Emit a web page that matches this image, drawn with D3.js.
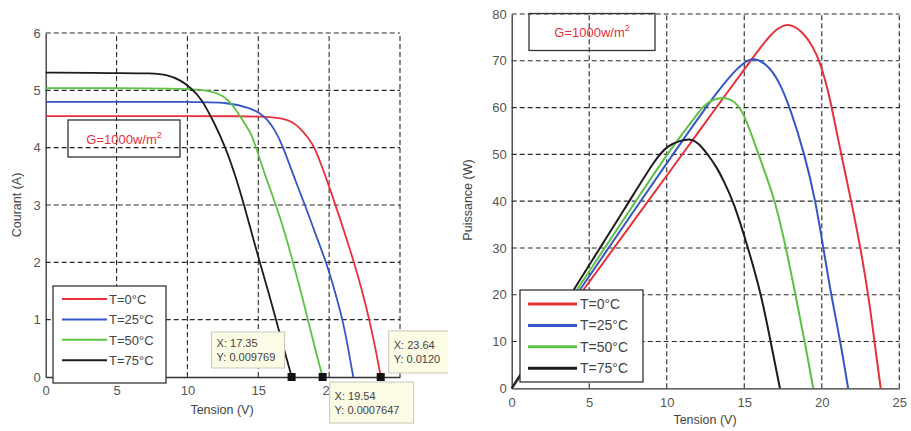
<!DOCTYPE html>
<html>
<head>
<meta charset="utf-8">
<script src="https://cdn.jsdelivr.net/npm/d3@7"></script>
<style>
  body { margin: 0; background: #fff; }
  svg { display: block; font-family: "Liberation Sans", Arial, sans-serif; }
</style>
</head>
<body>
<svg id="fig" width="911" height="431"></svg>
<script>
// tick labels
const voltTicks = [0, 5, 10, 15, 20, 25];
const currentTicks = [0, 1, 2, 3, 4, 5, 6];
const powerTicks = [0, 10, 20, 30, 40, 50, 60, 70, 80];

const seriesNames = ['T=0°C', 'T=25°C', 'T=50°C', 'T=75°C'];

// I-V curves
const iv0V = [0, 5, 10, 14, 15.5, 16.75, 17.4, 17.95, 18.5, 19.0, 19.6, 20.2, 20.8, 21.4, 22.0, 22.6, 23.15, 23.64];
const iv0I = [4.55, 4.55, 4.55, 4.55, 4.54, 4.51, 4.45, 4.34, 4.18, 4.0, 3.6, 3.18, 2.74, 2.28, 1.8, 1.25, 0.65, 0.012];
const iv25V = [0, 5, 10, 13, 14.4, 15.0, 15.6, 16.2, 16.75, 17.5, 18.3, 19.1, 19.8, 20.4, 20.95, 21.35, 21.7];
const iv25I = [4.8, 4.8, 4.8, 4.79, 4.69, 4.62, 4.51, 4.3, 4.02, 3.5, 3.0, 2.45, 2.0, 1.5, 1.0, 0.5, 0.0];
const iv50V = [0, 5, 10, 11.5, 12.5, 13.3, 14.0, 14.5, 14.85, 15.5, 16.25, 16.9, 17.45, 18.0, 18.5, 19.0, 19.54];
const iv50I = [5.04, 5.04, 5.03, 5.0, 4.92, 4.72, 4.43, 4.25, 4.0, 3.5, 3.0, 2.5, 2.0, 1.5, 1.0, 0.5, 0.0008];
const iv75V = [0, 5, 7.5, 8.6, 9.5, 10.2, 11, 11.9, 12.7, 13.4, 14.0, 14.55, 15.1, 15.7, 16.25, 16.8, 17.35];
const iv75I = [5.31, 5.3, 5.3, 5.27, 5.18, 5.05, 4.86, 4.43, 4.0, 3.5, 3.0, 2.5, 2.0, 1.5, 1.0, 0.5, 0.0098];

// P-V curves
const pv0V = [0, 4.4, 8.8, 11, 14, 15.5, 16.65, 17.3, 17.95, 18.8, 19.46, 19.9, 20.3, 20.65, 21.25, 21.9, 22.5, 23.0, 23.4, 23.8];
const pv0P = [0, 20, 40, 50, 63.7, 70.4, 75.5, 77.3, 78, 76.1, 72.9, 69.5, 65, 60, 50, 40, 30, 20, 10, 0];
const pv25V = [0, 4.2, 8.3, 10.4, 12.5, 14, 15, 15.7, 16.65, 17.3, 17.95, 18.9, 19.6, 20.1, 20.6, 21.2, 21.7];
const pv25P = [0, 20, 40, 50, 60, 66.5, 69.8, 70.8, 68.7, 65.2, 60, 50, 40, 30, 20, 10, 0];
const pv50V = [0, 4, 8, 10, 11.5, 12.15, 12.8, 13.65, 14.3, 14.94, 15.6, 16.2, 17.0, 17.7, 18.3, 18.9, 19.45];
const pv50P = [0, 20, 40, 50, 56.5, 59.5, 61.6, 62.3, 61.6, 59.1, 53, 47.4, 40, 30, 20, 10, 0];
const pv75V = [0, 3.8, 7.6, 9.25, 10.1, 10.85, 11.5, 12.0, 12.6, 13.2, 13.65, 14.3, 15.25, 16.1, 16.7, 17.3];
const pv75P = [0, 20, 40, 49, 52, 52.9, 53.4, 52.6, 50.2, 47.4, 44.5, 40, 30, 20, 10, 0];

// data tips on the left plot
const tipX = [17.35, 19.54, 23.64];
const tipY = ['0.009769', '0.0007647', '0.0120'];

const colors = ['#e8303b', '#3656c8', '#5cc244', '#1c1c1c'];

const zip = (xs, ys) => xs.map((x, i) => ({x, y: ys[i]}));
const ivSeries = [zip(iv0V, iv0I), zip(iv25V, iv25I), zip(iv50V, iv50I), zip(iv75V, iv75I)];
const pvSeries = [zip(pv0V, pv0P), zip(pv25V, pv25P), zip(pv50V, pv50P), zip(pv75V, pv75P)];

const svg = d3.select('#fig');

svg.append('defs').append('clipPath').attr('id', 'leftClip')
    .append('rect').attr('x', 0).attr('y', 0).attr('width', 448).attr('height', 431);

function drawPanel(g, opt) {
    const x = d3.scaleLinear().domain([0, 25]).range(opt.xr);
    const y = d3.scaleLinear().domain(opt.yd).range(opt.yr);

    // dashed grid
    g.append('g').selectAll('line').data(voltTicks.slice(1)).join('line')
        .attr('x1', d => x(d)).attr('x2', d => x(d))
        .attr('y1', opt.yr[0]).attr('y2', opt.yr[1])
        .attr('stroke', '#2a2a2a').attr('stroke-width', 1.1).attr('stroke-dasharray', '5,3');
    g.append('g').selectAll('line').data(opt.yTicks.slice(1)).join('line')
        .attr('x1', opt.xr[0]).attr('x2', opt.xr[1])
        .attr('y1', d => y(d)).attr('y2', d => y(d))
        .attr('stroke', '#2a2a2a').attr('stroke-width', 1.1).attr('stroke-dasharray', '5,3');

    // axes
    const xAxis = g.append('g')
        .attr('transform', `translate(0,${opt.yr[0]})`)
        .call(d3.axisBottom(x).tickValues(opt.xLabelTicks).tickFormat(d3.format('d')).tickSize(0).tickPadding(9));
    const yAxis = g.append('g')
        .attr('transform', `translate(${opt.xr[0]},0)`)
        .call(d3.axisLeft(y).tickValues(opt.yTicks).tickFormat(d3.format('d')).tickSize(0).tickPadding(5));
    [xAxis, yAxis].forEach(a => {
        a.select('.domain').attr('stroke', '#333').attr('stroke-width', 1.3);
        a.selectAll('text').attr('fill', '#555').style('font-size', '13px');
    });

    // curves
    const line = d3.line().x(d => x(d.x)).y(d => y(d.y)).curve(d3.curveBasis);
    g.append('g').selectAll('path').data(opt.series).join('path')
        .attr('d', line)
        .attr('fill', 'none')
        .attr('stroke', (d, i) => colors[i])
        .attr('stroke-width', opt.lw);

    // axis titles
    g.append('text')
        .attr('x', opt.xLabel[0]).attr('y', opt.xLabel[1])
        .attr('text-anchor', 'middle').attr('fill', '#444').style('font-size', '12.5px')
        .text('Tension (V)');
    g.append('text')
        .attr('transform', `translate(${opt.yLabel[0]},${opt.yLabel[1]}) rotate(-90)`)
        .attr('text-anchor', 'middle').attr('fill', '#444').style('font-size', '12.5px')
        .text(opt.yTitle);

    // irradiance box
    const b = opt.gBox;
    g.append('rect').attr('x', b[0]).attr('y', b[1]).attr('width', b[2]).attr('height', b[3])
        .attr('fill', 'none').attr('stroke', '#333').attr('stroke-width', 1.3);
    const gt = g.append('text')
        .attr('x', b[0] + b[2] / 2).attr('y', b[1] + b[3] / 2 + 5)
        .attr('text-anchor', 'middle').attr('fill', '#e8303b').style('font-size', '13px')
        .text('G=1000w/m');
    gt.append('tspan').attr('dy', -6).style('font-size', '9px').text('2');

    // legend
    const L = opt.legend;
    const lg = g.append('g').attr('transform', `translate(${L.x},${L.y})`);
    lg.append('rect').attr('width', L.w).attr('height', L.h)
        .attr('fill', '#fff').attr('stroke', '#333').attr('stroke-width', 1.3);
    const rows = lg.selectAll('g').data(seriesNames).join('g')
        .attr('transform', (d, i) => `translate(0,${L.y0 + i * L.dy})`);
    rows.append('line').attr('x1', L.l1).attr('x2', L.l2)
        .attr('stroke', (d, i) => colors[i]).attr('stroke-width', L.lw);
    rows.append('text').attr('x', L.tx).attr('y', 5)
        .attr('fill', '#444').style('font-size', L.fs)
        .text(d => d);

    return {x, y};
}

// left: I-V
const left = svg.append('g').attr('clip-path', 'url(#leftClip)');
const ls = drawPanel(left, {
    xr: [45.7, 400], yr: [377, 33], yd: [0, 6],
    yTicks: currentTicks, xLabelTicks: [0, 5, 10, 15, 20],
    series: ivSeries, lw: 1.8,
    xLabel: [222, 414], yLabel: [21, 205], yTitle: 'Courant (A)',
    gBox: [68, 120, 112, 37],
    legend: {x: 53, y: 286, w: 113, h: 97, y0: 13, dy: 20.4, l1: 9, l2: 54, tx: 56, lw: 2, fs: '13px'}
});

// data tips
const tips = tipX.map((v, i) => ({v, y: tipY[i]}));
const tipBox = [[-80, -45, 73, 36], [7, 5, 84, 41], [8, -46, 70, 42]];
const tg = left.append('g');
tg.selectAll('rect.mk').data(tips).join('rect').attr('class', 'mk')
    .attr('x', d => ls.x(d.v) - 4).attr('y', ls.y(0) - 4)
    .attr('width', 8).attr('height', 8).attr('fill', '#111');
const boxes = tg.selectAll('g.tip').data(tips).join('g').attr('class', 'tip')
    .attr('transform', (d, i) => `translate(${ls.x(d.v) + tipBox[i][0]},${ls.y(0) + tipBox[i][1]})`);
boxes.append('rect')
    .attr('width', (d, i) => tipBox[i][2]).attr('height', (d, i) => tipBox[i][3])
    .attr('fill', '#fbfbe6').attr('stroke', '#c8c8b8');
boxes.append('text').attr('x', 5).attr('y', (d, i) => tipBox[i][3] / 2 - 3)
    .attr('fill', '#444').style('font-size', '11px').text(d => 'X: ' + d.v);
boxes.append('text').attr('x', 5).attr('y', (d, i) => tipBox[i][3] / 2 + 11)
    .attr('fill', '#444').style('font-size', '11px').text(d => 'Y: ' + d.y);

// right: P-V
drawPanel(svg.append('g'), {
    xr: [511.7, 899.3], yr: [388.3, 14], yd: [0, 80],
    yTicks: powerTicks, xLabelTicks: voltTicks,
    series: pvSeries, lw: 2,
    xLabel: [705, 424], yLabel: [472, 200], yTitle: 'Puissance (W)',
    gBox: [529, 13.5, 126, 37],
    legend: {x: 520, y: 290, w: 123, h: 92, y0: 14, dy: 21.4, l1: 8, l2: 57, tx: 60, lw: 3, fs: '14px'}
});
</script>
</body>
</html>
